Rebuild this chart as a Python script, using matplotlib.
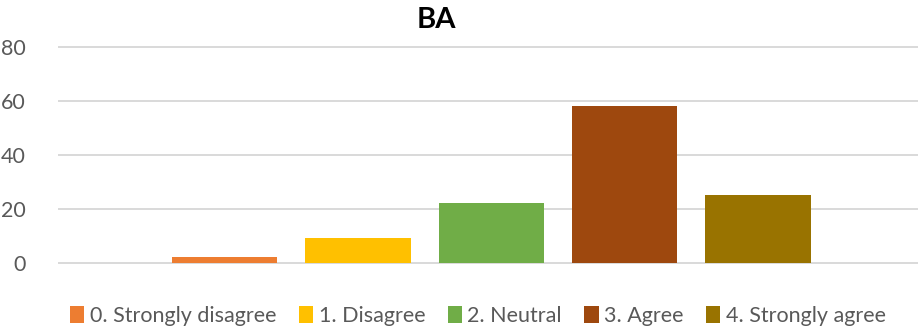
import matplotlib
matplotlib.use("Agg")
import matplotlib.pyplot as plt
from matplotlib.patches import Patch

title = "BA"
categories = ["0. Strongly disagree", "1. Disagree", "2. Neutral", "3. Agree", "4. Strongly agree"]
values = [2, 9, 22, 58, 25]
colors = ["#ED7D31", "#FFC000", "#70AD47", "#9E480E", "#997300"]
yticks = [0, 20, 40, 60, 80]

plt.rcParams['font.family'] = ['Lato', 'DejaVu Sans']
fig = plt.figure(figsize=(9.18, 3.31), dpi=100)
ax = fig.add_axes([58/918, 0.198, 1 - 58/918, 0.875 - 0.198])

for i, (c, v, col) in enumerate(zip(categories, values, colors)):
    ax.bar(i, v, width=0.79, color=col, label=c, zorder=3)

ax.set_xlim(-1.25, 5.2)
ax.set_ylim(-1, 82)
ax.set_yticks(yticks)
ax.set_yticklabels([str(t) for t in yticks], fontsize=15.5, color="#595959")
ax.set_xticks([])
ax.tick_params(axis='y', length=0, pad=23)
for s in ax.spines.values():
    s.set_visible(False)
for t in yticks:
    ax.axhline(t, color="#D9D9D9", lw=1.4, zorder=1)

fig.text(436/918, 1 - 20/331, title, ha="center", va="center", fontsize=21, fontweight="bold", color="black")

handles = [Patch(facecolor=col, edgecolor="none") for col in colors]
leg = fig.legend(handles, categories, loc="center", bbox_to_anchor=(478/918, 1 - 316/331), ncol=5,
                 frameon=False, fontsize=15.5, handlelength=0.66, handleheight=0.85,
                 handletextpad=0.25, columnspacing=1.05, borderaxespad=0, borderpad=0)
for t in leg.get_texts():
    t.set_color("#595959")

fig.savefig("out.png", dpi=100)
